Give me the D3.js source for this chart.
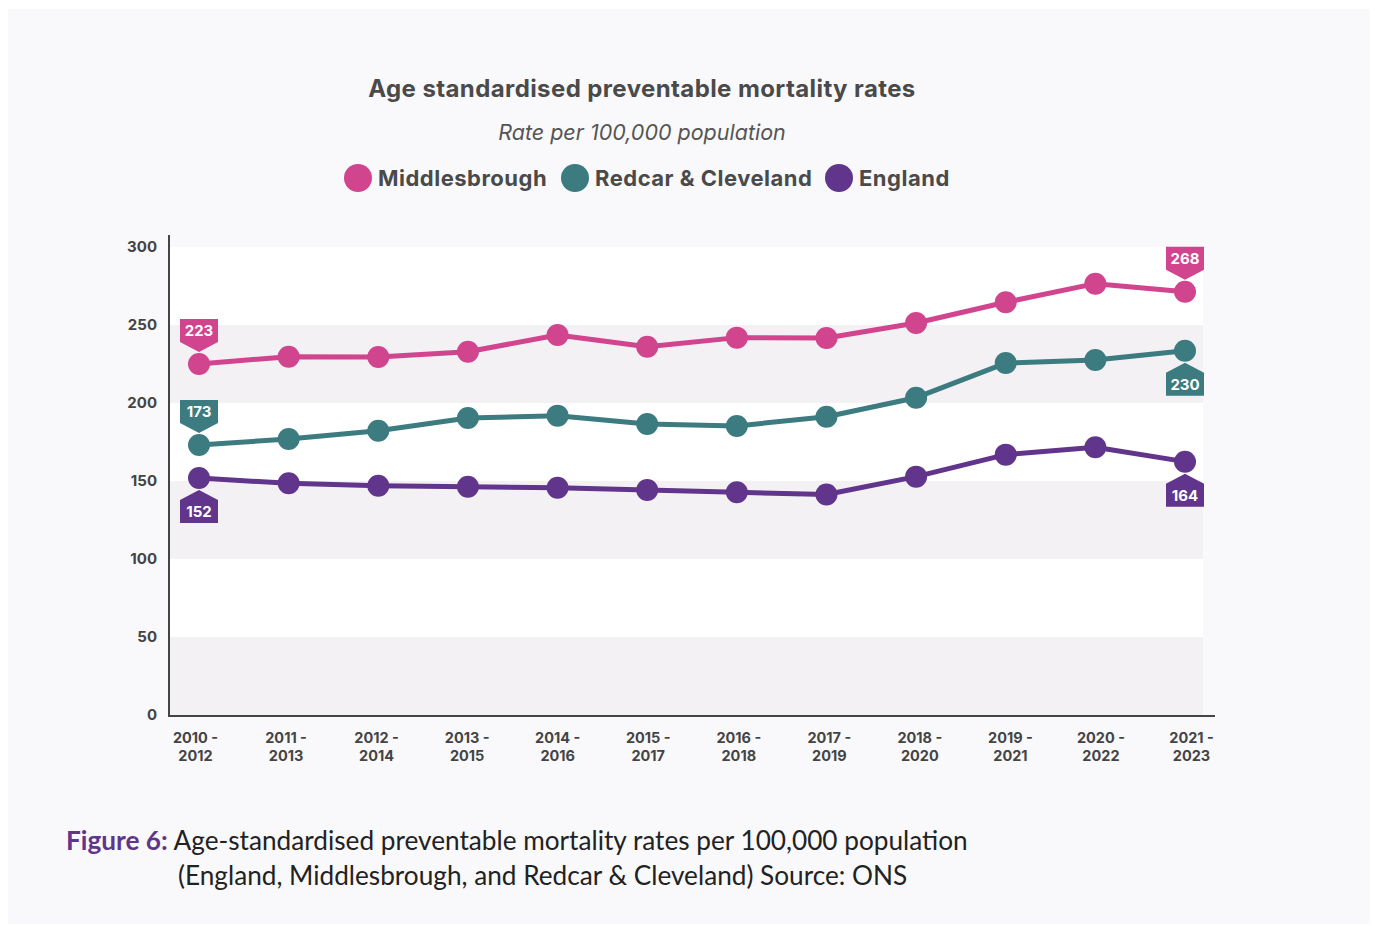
<!DOCTYPE html>
<html>
<head>
<meta charset="utf-8">
<script src="https://cdn.jsdelivr.net/npm/d3@7"></script>
<style>
    body { margin: 0; background: #ffffff; }
    svg { display: block; }
</style>
</head>
<body>
<div id="mortality_chart"></div>
<script>
// periods on the x axis
let periods = ["2010 - 2012", "2011 - 2013", "2012 - 2014", "2013 - 2015", "2014 - 2016", "2015 - 2017",
    "2016 - 2018", "2017 - 2019", "2018 - 2020", "2019 - 2021", "2020 - 2022", "2021 - 2023"];

// rates per 100,000
let middlesbrough = [225.0, 229.7, 229.5, 232.9, 243.6, 236.1, 241.9, 241.7, 251.3, 264.6, 276.5, 271.3];
let redcar = [173.1, 176.9, 182.2, 190.4, 191.9, 186.5, 185.3, 191.2, 203.4, 225.6, 227.6, 233.5];
let england = [151.9, 148.5, 147.0, 146.3, 145.7, 144.2, 142.8, 141.3, 152.8, 166.9, 171.6, 162.4];

// values printed in the end tags
let firstLabels = [223, 173, 152];
let lastLabels = [268, 230, 164];

let seriesNames = ["Middlesbrough", "Redcar & Cleveland", "England"];
let yTicks = [0, 50, 100, 150, 200, 250, 300];

document.addEventListener("DOMContentLoaded", () => {
    drawChart();
});

let drawChart = () => {
    var width = 1375
    var height = 926

    var colors = ["#d1448e", "#3c7b80", "#60358b"]
    var textColor = "#4a4a4a"
    var font = "Inter, 'Open Sans', sans-serif"

    var svg = d3.select("#mortality_chart")
        .append("svg")
        .attr("width", width)
        .attr("height", height)

    // panel background
    svg.append("rect")
        .attr("x", 8).attr("y", 9)
        .attr("width", 1362).attr("height", 915)
        .attr("fill", "#f9f9fb")

    var x = d3.scalePoint()
        .domain(periods)
        .range([199, 1185])

    // tick labels sit on a slightly wider spread than the points
    var xLabel = d3.scalePoint()
        .domain(periods)
        .range([195, 1191])

    var y = d3.scaleLinear()
        .domain([0, 300])
        .range([715, 247])

    // alternating bands
    var bands = d3.pairs(yTicks)
    svg.append("g")
        .selectAll("rect")
        .data(bands)
        .enter()
        .append("rect")
        .attr("x", 170)
        .attr("width", 1203 - 170)
        .attr("y", d => y(d[1]))
        .attr("height", d => y(d[0]) - y(d[1]))
        .attr("fill", (d, i) => i % 2 == 0 ? "#f3f1f4" : "#ffffff")

    // title, subtitle
    svg.append("text")
        .attr("x", 642).attr("y", 97)
        .attr("text-anchor", "middle")
        .style("font-family", font)
        .style("font-weight", 700)
        .style("font-size", "24px")
        .style("letter-spacing", "0.4px")
        .attr("fill", textColor)
        .text("Age standardised preventable mortality rates")

    svg.append("text")
        .attr("x", 642).attr("y", 140)
        .attr("text-anchor", "middle")
        .style("font-family", font)
        .style("font-style", "italic")
        .style("font-size", "21.5px")
        .attr("fill", "#555")
        .text("Rate per 100,000 population")

    // legend
    var legendX = [358, 575, 839]
    var legend = svg.append("g")
        .selectAll("g")
        .data(seriesNames)
        .enter()
        .append("g")
        .attr("transform", (d, i) => "translate(" + legendX[i] + ",178)")
    legend.append("circle")
        .attr("r", 14)
        .attr("fill", (d, i) => colors[i])
    legend.append("text")
        .attr("x", 20).attr("y", 8)
        .style("font-family", font)
        .style("font-weight", 700)
        .style("font-size", "22px")
        .style("letter-spacing", "0.5px")
        .attr("fill", textColor)
        .text(d => d)

    // axes
    var yAxis = svg.append("g")
        .attr("transform", "translate(169,0)")
        .call(d3.axisLeft(y).tickValues(yTicks).tickSize(0).tickPadding(12))
    yAxis.select(".domain").remove()
    yAxis.selectAll("text")
        .style("font-family", font)
        .style("font-weight", 700)
        .style("font-size", "15px")
        .attr("fill", "#444")

    svg.append("line")
        .attr("x1", 169).attr("x2", 169)
        .attr("y1", 235).attr("y2", 716)
        .attr("stroke", "#444").attr("stroke-width", 2)
    svg.append("line")
        .attr("x1", 168).attr("x2", 1215)
        .attr("y1", 716).attr("y2", 716)
        .attr("stroke", "#444").attr("stroke-width", 2)

    var xAxis = svg.append("g")
        .attr("transform", "translate(0,716)")
        .call(d3.axisBottom(xLabel).tickSize(0).tickFormat(""))
    xAxis.select(".domain").remove()
    xAxis.selectAll(".tick").append("text")
        .style("font-family", font)
        .style("font-weight", 700)
        .style("font-size", "14.5px")
        .attr("fill", "#444")
        .attr("text-anchor", "middle")
        .selectAll("tspan")
        .data(d => {
            let parts = d.split(" - ")
            return [parts[0] + " -", parts[1]]
        })
        .enter()
        .append("tspan")
        .attr("x", 0)
        .attr("y", (d, i) => 27 + i * 18)
        .text(d => d)

    // lines and points
    var all = [middlesbrough, redcar, england]
    var line = d3.line()
        .x((d, i) => x(periods[i]))
        .y(d => y(d))

    var series = svg.append("g")
        .selectAll("g")
        .data(all)
        .enter()
        .append("g")

    series.append("path")
        .attr("d", d => line(d))
        .attr("fill", "none")
        .attr("stroke", (d, i) => colors[i])
        .attr("stroke-width", 5)
        .attr("stroke-linejoin", "round")

    series.each(function (d, i) {
        d3.select(this).selectAll("circle")
            .data(d)
            .enter()
            .append("circle")
            .attr("cx", (v, j) => x(periods[j]))
            .attr("cy", v => y(v))
            .attr("r", 11)
            .attr("fill", colors[i])
    })

    // tags: dir -1 = above the point, 1 = below
    var tag = (cx, cy, dir, value, color) => {
        var w = 38, h = 23, a = 10
        var tip = cy + dir * 12
        var base = tip + dir * a
        var far = base + dir * h
        var pts = [[cx, tip], [cx + w / 2, base], [cx + w / 2, far], [cx - w / 2, far], [cx - w / 2, base]]
        svg.append("path")
            .attr("d", "M" + pts.join("L") + "Z")
            .attr("fill", color)
        svg.append("text")
            .attr("x", cx)
            .attr("y", (base + far) / 2 + 5.5)
            .attr("text-anchor", "middle")
            .style("font-family", font)
            .style("font-weight", 700)
            .style("font-size", "15px")
            .attr("fill", "#ffffff")
            .text(value)
    }

    var firstDir = [-1, -1, 1]
    var lastDir = [-1, 1, 1]
    all.forEach((d, i) => {
        tag(x(periods[0]), y(d[0]), firstDir[i], firstLabels[i], colors[i])
        tag(x(periods[periods.length - 1]), y(d[d.length - 1]), lastDir[i], lastLabels[i], colors[i])
    })

    // caption
    var caption = svg.append("text")
        .attr("x", 66).attr("y", 850)
        .style("font-family", "Lato, sans-serif")
        .style("font-size", "26.2px")
        .attr("fill", "#222")
    caption.append("tspan")
        .style("font-weight", 700)
        .attr("fill", "#60358b")
        .text("Figure 6:")
    caption.append("tspan")
        .text(" Age-standardised preventable mortality rates per 100,000 population")
    svg.append("text")
        .attr("x", 178).attr("y", 885)
        .style("font-family", "Lato, sans-serif")
        .style("font-size", "26.2px")
        .attr("fill", "#222")
        .text("(England, Middlesbrough, and Redcar & Cleveland) Source: ONS")
}
</script>
</body>
</html>
